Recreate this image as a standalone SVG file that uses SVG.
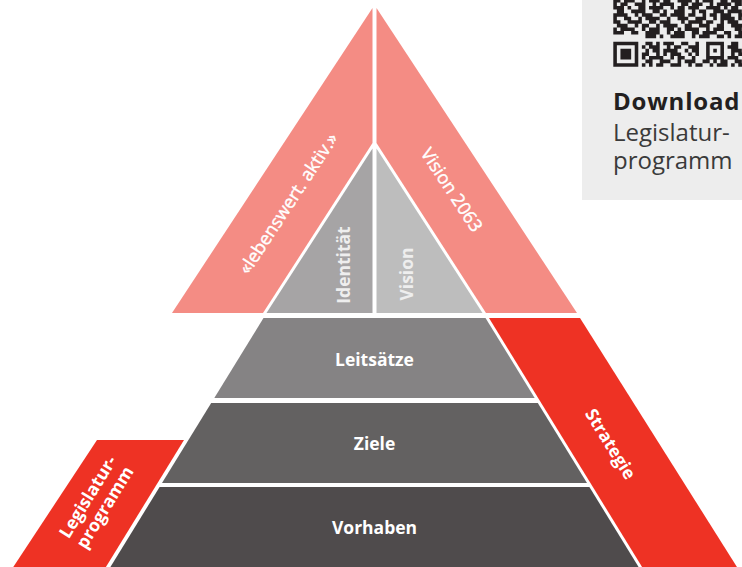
<svg xmlns="http://www.w3.org/2000/svg" width="742" height="567" viewBox="0 0 742 567">
<style>
.pink{fill:#f48c84}
.red{fill:#ee3224}
.lbl{font-family:"Open Sans","Noto Sans","Liberation Sans",sans-serif;font-weight:700;font-size:17.5px;fill:#ffffff;text-anchor:middle}
.lbl2{font-family:"Open Sans","Noto Sans","Liberation Sans",sans-serif;font-weight:700;font-size:17.5px;fill:#eeeeee;text-anchor:middle}
.band{font-family:"Open Sans","Noto Sans","Liberation Sans",sans-serif;font-weight:400;font-size:18px;fill:#ffffff;stroke:#ffffff;stroke-width:0.4px;text-anchor:middle}
.dl{font-family:"Open Sans","Noto Sans","Liberation Sans",sans-serif;font-size:24px}
</style>
<rect width="742" height="567" fill="#ffffff"/>

<g id="download">
  <rect x="582" y="0" width="160" height="200" fill="#ededed"/>
  <g transform="translate(613.3,66.7) scale(3.57)" fill="none" stroke="#231f20" stroke-width="1">
    <path d="M0-18.5h2M3-18.5h3M8-18.5h1M10-18.5h3M14-18.5h2M18-18.5h4M23-18.5h1M25-18.5h3M30-18.5h2M33-18.5h3
M0-17.5h1M2-17.5h2M6-17.5h3M11-17.5h1M13-17.5h4M19-17.5h2M22-17.5h3M27-17.5h1M29-17.5h4M34-17.5h2
M0-16.5h3M4-16.5h1M7-16.5h2M10-16.5h4M16-16.5h1M18-16.5h2M21-16.5h3M26-16.5h4M31-16.5h1M33-16.5h2
M1-15.5h2M5-15.5h4M11-15.5h2M14-15.5h1M17-15.5h3M22-15.5h1M24-15.5h2M28-15.5h3M32-15.5h4
M0-14.5h4M6-14.5h1M8-14.5h3M13-14.5h2M16-14.5h4M21-14.5h2M25-14.5h1M27-14.5h2M30-14.5h3M35-14.5h2
M0-13.5h1M3-13.5h2M7-13.5h1M9-13.5h4M15-13.5h1M18-13.5h3M23-13.5h3M28-13.5h1M30-13.5h4M35-13.5h1
M0-12.5h2M4-12.5h4M10-12.5h2M13-12.5h3M19-12.5h1M21-12.5h4M26-12.5h2M30-12.5h1M32-12.5h3
M1-11.5h3M6-11.5h1M8-11.5h2M12-11.5h1M14-11.5h4M20-11.5h2M24-11.5h3M29-11.5h2M33-11.5h4
M0-10.5h1M2-10.5h4M8-10.5h1M10-10.5h3M15-10.5h2M18-10.5h1M20-10.5h4M26-10.5h1M28-10.5h3M34-10.5h2
M0-9.5h3M5-9.5h2M9-9.5h4M15-9.5h1M17-9.5h3M22-9.5h2M25-9.5h4M31-9.5h2M35-9.5h2
M9-8.5h3M13-8.5h1M16-8.5h4M22-8.5h1M24-8.5h3M29-8.5h2M32-8.5h1M34-8.5h3
M0-6.5h7M9-6.5h2M12-6.5h1M14-6.5h3M19-6.5h2M23-6.5h1M26-6.5h5M33-6.5h2
M0-5.5h1M6-5.5h1M8-5.5h1M10-5.5h3M15-5.5h1M17-5.5h2M21-5.5h3M26-5.5h1M30-5.5h1M32-5.5h3
M0-4.5h1M2-4.5h3M6-4.5h1M9-4.5h1M11-4.5h2M14-4.5h4M20-4.5h1M22-4.5h2M26-4.5h1M28-4.5h1M30-4.5h1M33-4.5h3
M0-3.5h1M2-3.5h3M6-3.5h1M8-3.5h2M12-3.5h1M14-3.5h1M16-3.5h3M21-3.5h1M23-3.5h1M26-3.5h1M30-3.5h1M33-3.5h1M35-3.5h2
M0-2.5h1M2-2.5h3M6-2.5h1M8-2.5h1M10-2.5h4M16-2.5h1M18-2.5h2M22-2.5h1M26-2.5h5M32-2.5h3
M0-1.5h1M6-1.5h1M9-1.5h2M13-1.5h3M18-1.5h1M20-1.5h3M25-1.5h2M28-1.5h1M30-1.5h2M34-1.5h2
M0-0.5h7M8-0.5h1M10-0.5h1M12-0.5h2M16-0.5h3M21-0.5h1M23-0.5h2M27-0.5h1M29-0.5h3M33-0.5h1M35-0.5h2"/>
  </g>
  <text class="dl" x="613" y="110" font-weight="700" fill="#231f20" letter-spacing="0.8">Download</text>
  <text class="dl" font-weight="400" fill="#3a3a3a"><tspan x="613" y="141">Legislatur-</tspan><tspan x="613" y="169">programm</tspan></text>
</g>

<g id="lebenswert">
  <polygon class="pink" points="372.5,8 172,313 263,313 372.5,143.1"/>
  <text class="band" transform="translate(293.5,206.8) rotate(-56.7)">«lebenswert. aktiv.»</text>
</g>
<g id="vision2063">
  <polygon class="pink" points="376.5,8 577,313 486,313 376.5,143.1"/>
  <text class="band" transform="translate(446.5,193.3) rotate(56.7)">Vision 2063</text>
</g>
<g id="identitaet">
  <polygon fill="#a6a4a5" points="372.5,148.6 266.5,313 372.5,313"/>
  <text class="lbl2" transform="translate(350,265) rotate(-90)">Identität</text>
</g>
<g id="vision">
  <polygon fill="#bdbdbd" points="376.5,148.6 376.5,313 482.5,313"/>
  <text class="lbl2" transform="translate(413,274) rotate(-90)">Vision</text>
</g>
<g id="leitsaetze">
  <polygon fill="#858384" points="263.5,318 485.5,318 534.7,398 214.3,398"/>
  <text class="lbl" x="374.5" y="366">Leitsätze</text>
</g>
<g id="ziele">
  <polygon fill="#636161" points="211.2,403 537.8,403 587,483 162,483"/>
  <text class="lbl" x="374.5" y="450">Ziele</text>
</g>
<g id="vorhaben">
  <polygon fill="#4f4b4c" points="159.6,487 589.4,487 643.5,575 105.5,575"/>
  <text class="lbl" x="374.5" y="534">Vorhaben</text>
</g>
<g id="strategie">
  <polygon class="red" points="489,318 580,318 742,575 647,575"/>
  <text class="lbl" transform="translate(605.4,447.2) rotate(58.2)">Strategie</text>
</g>
<g id="legislaturprogramm">
  <polygon class="red" points="97,440 184,440 101,575 8,575"/>
  <text class="lbl" font-size="17" transform="translate(93,500) rotate(-58.4)"><tspan x="0" y="0">Legislatur-</tspan><tspan x="0" y="20">programm</tspan></text>
</g>
<g id="connectors"></g>
</svg>
